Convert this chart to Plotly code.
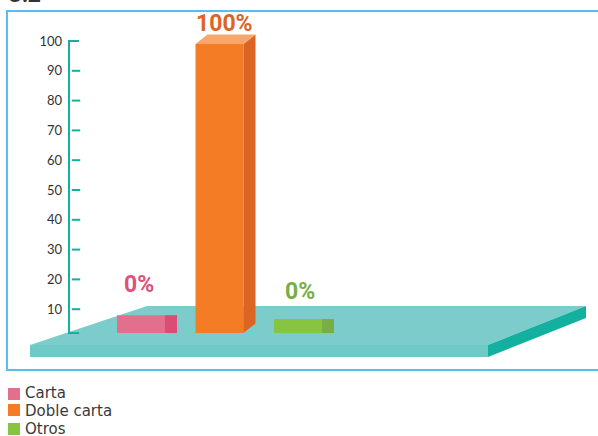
import plotly.graph_objects as go

# Data
categories = ["Carta", "Doble carta", "Otros"]
percent_labels = ["0%", "100%", "0%"]
bar_base = 2
bar_tops = [8, 99, 6.7]
tick_values = [100, 90, 80, 70, 60, 50, 40, 30, 20, 10]
heading = "5.2"

# Style
W, H = 598, 436
front_colors = ["#e2708c", "#f37c25", "#87c540"]
side_colors = ["#dc4d76", "#dc6425", "#78ae44"]
label_colors = ["#e0507a", "#dc6425", "#78ae44"]
top_color = "#f7a76c"
rises = [0, 3.2, 0]       # depth rise of the side, axis units
label_shift = [20, 10, 17]
label_dx = [-2, 5, 2]
depth = 12 / 78.5
bar_w = 48 / 78.5
TEAL = "#14b09f"
FRAME = "#5bbdec"
AXIS_PX_X = 69
TICK_PX_X = 76


def xval(px):
    return (px - 141) / 78.5


def yval(px):
    return (339 - px) / 2.98


def pp(pts, **kw):
    path = "M" + "L".join(f"{x / W:.5f},{1 - y / H:.5f}" for x, y in pts) + "Z"
    return dict(type="path", path=path, xref="paper", yref="paper", layer="below", **kw)


shapes = [
    pp([(30, 345), (147, 306), (586, 306), (488, 345)], fillcolor="#7dcccc", line=dict(width=0)),
    pp([(30, 345), (488, 345), (488, 357), (30, 357)], fillcolor="#6fc9c7", line=dict(width=0)),
    pp([(488, 345), (586, 306), (586, 318), (488, 357)], fillcolor=TEAL, line=dict(width=0)),
    pp([(7, 11), (640, 11), (640, 370), (7, 370)], line=dict(color=FRAME, width=2), fillcolor="rgba(0,0,0,0)"),
]

# Side and top faces of each bar, through the data axes
for i, top in enumerate(bar_tops):
    xr = i + bar_w / 2
    rise = rises[i]
    shapes.append(dict(
        type="path", xref="x", yref="y", line=dict(width=0), fillcolor=side_colors[i], layer="above",
        path=f"M{xr},{bar_base} L{xr + depth},{bar_base + rise} L{xr + depth},{top + rise} L{xr},{top} Z"))
    if rise:
        xl = i - bar_w / 2
        shapes.append(dict(
            type="path", xref="x", yref="y", line=dict(width=0), fillcolor=top_color, layer="above",
            path=f"M{xl},{top} L{xl + depth},{top + rise} L{xr + depth},{top + rise} L{xr},{top} Z"))

fig = go.Figure()
fig.add_trace(go.Bar(
    x=list(range(len(categories))), y=[t - bar_base for t in bar_tops], base=bar_base,
    width=bar_w, marker=dict(color=front_colors, line_width=0), showlegend=False, hoverinfo="skip"))

# Axis line and detached tick marks
ax_x = xval(AXIS_PX_X)
fig.add_trace(go.Scatter(
    x=[xval(79), ax_x, ax_x, xval(79)], y=[max(tick_values), max(tick_values), bar_base, bar_base],
    mode="lines", line=dict(color=TEAL, width=2), showlegend=False, hoverinfo="skip"))
fig.add_trace(go.Scatter(
    x=[xval(TICK_PX_X)] * (len(tick_values) - 1), y=tick_values[1:], mode="markers",
    marker=dict(symbol="line-ew", size=6, line=dict(color=TEAL, width=2)),
    showlegend=False, hoverinfo="skip"))

annotations = []
for i, label in enumerate(percent_labels):
    annotations.append(dict(
        x=i, y=bar_tops[i], xref="x", yref="y", text=label, showarrow=False,
        xshift=label_dx[i], yshift=label_shift[i] - 4, yanchor="bottom",
        font=dict(family="Roboto", size=23, weight="bold", color=label_colors[i]),
        borderpad=0))

# Legend
legend_y = [394, 410, 429]
text_y = [393, 411, 429]
for name, color, y, ty in zip(categories, front_colors, legend_y, text_y):
    shapes.append(dict(type="rect", xref="paper", yref="paper",
                       x0=8 / W, x1=20 / W, y0=1 - (y - 6) / H, y1=1 - (y + 6) / H,
                       fillcolor=color, line=dict(width=0)))
    annotations.append(dict(x=23 / W, y=1 - ty / H, xref="paper", yref="paper", text=name,
                            showarrow=False, xanchor="left", yanchor="middle",
                            font=dict(family="DejaVu Sans", size=15, color="#3a3a3a")))

# Heading, cropped by the top of the page as in the source
annotations.append(dict(x=7 / W, y=1 - 9 / H, xref="paper", yref="paper", text=f"<b>{heading}</b>",
                        showarrow=False, xanchor="left", yanchor="bottom",
                        font=dict(family="Lato", size=23, color="#333333")))

fig.update_layout(
    width=W, height=H, margin=dict(l=0, r=0, t=0, b=0), autosize=False,
    paper_bgcolor="white", plot_bgcolor="rgba(0,0,0,0)",
    shapes=shapes, annotations=annotations, showlegend=False,
    xaxis=dict(range=[xval(0), xval(W)], visible=False, fixedrange=True),
    yaxis=dict(range=[yval(H), yval(0)], domain=[0, 1], anchor="free",
               position=AXIS_PX_X / W, showline=False, showgrid=False, zeroline=False,
               tickmode="array", tickvals=tick_values, ticktext=[str(v) for v in tick_values],
               ticks="", ticklabelstandoff=7,
               tickfont=dict(family="Lato", size=13, color="#333333"), fixedrange=True),
)
fig.write_html("out.html", config=dict(displayModeBar=False),
               post_script="document.body.style.margin='0';document.documentElement.style.overflow='hidden';")
